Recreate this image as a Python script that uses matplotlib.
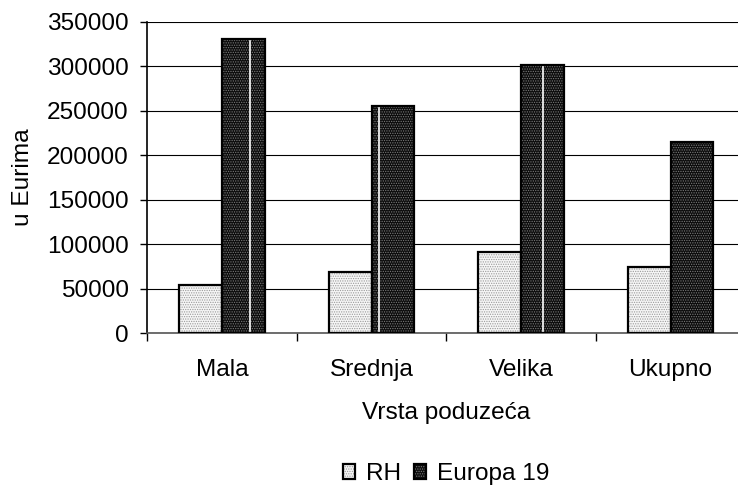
import matplotlib
matplotlib.use('Agg')
import matplotlib.pyplot as plt
import numpy as np

# podaci
kategorije = ['Mala', 'Srednja', 'Velika', 'Ukupno']
rh = [54000, 69000, 91000, 74000]
europa = [331000, 256000, 302000, 215000]
serije = ['RH', 'Europa 19']

plt.rcParams['font.family'] = ['Liberation Sans', 'DejaVu Sans']
plt.rcParams['font.size'] = 17.6
plt.rcParams['hatch.linewidth'] = 0.6

fig = plt.figure(figsize=(7.38, 4.86), dpi=100)
# plot area runs past the right edge, as in the cropped original
ax = fig.add_axes([147.3 / 738, 1 - 333 / 486, 598 / 738, 311 / 486])

x = np.arange(len(kategorije))
w = 0.285

# fill with dotted texture, then black outline on top
f_rh = ax.bar(x - w / 2, rh, w, facecolor='#f6f6f6', edgecolor='#9a9a9a',
              hatch='.......', linewidth=0, zorder=3)
f_eu = ax.bar(x + w / 2, europa, w, facecolor='#0c0c0c', edgecolor='#7a7a7a',
              hatch='.......', linewidth=0, zorder=3)
o_rh = ax.bar(x - w / 2, rh, w, fill=False, edgecolor='black', linewidth=1.6, zorder=4)
o_eu = ax.bar(x + w / 2, europa, w, fill=False, edgecolor='black', linewidth=1.6, zorder=4)

# thin white seams inside the dark bars (pattern tile edges in the original)
seam = [0.66, 0.18, 0.51, None]
for b, s in zip(f_eu, seam):
    if s is None:
        continue
    xs = b.get_x() + s * b.get_width()
    ax.vlines(xs, 0, b.get_height() - 1500, color='white', linewidth=1.2, zorder=3.5)

ax.set_xlim(-0.5, 3.5)
ax.set_ylim(0, 350000)
ax.set_yticks(np.arange(0, 350001, 50000))
ax.yaxis.grid(True, color='black', linewidth=0.8)
ax.set_axisbelow(True)

# category boundaries get the tick marks, labels sit in the middle
ax.set_xticks(np.arange(-0.5, 4, 1))
ax.set_xticklabels([])
ax.set_xticks(x, minor=True)
ax.set_xticklabels(kategorije, minor=True)
ax.tick_params(axis='x', which='major', length=6, width=1, direction='out')
ax.tick_params(axis='x', which='minor', length=0, pad=19)
ax.tick_params(axis='y', length=5, width=1, direction='out', pad=8.5)

for s in ['top', 'right']:
    ax.spines[s].set_visible(False)
ax.spines['left'].set_linewidth(1.2)
ax.spines['bottom'].set_linewidth(1.2)
ax.spines['bottom'].set_color('#555555')

ax.set_ylabel('u Eurima', va='center')
ax.yaxis.set_label_coords((23 - 147.3) / 598, 0.5)
ax.set_xlabel('Vrsta poduzeća', va='center')
ax.xaxis.set_label_coords(0.5, -(413 - 333) / 311)

ax.legend([(f_rh[0], o_rh[0]), (f_eu[0], o_eu[0])], serije,
          loc='center', bbox_to_anchor=(0.5, -(474 - 333) / 311), ncol=2,
          frameon=False, handlelength=0.5, handleheight=0.6,
          handletextpad=0.45, columnspacing=0.5, borderpad=0)

fig.savefig('out.png', dpi=100)
